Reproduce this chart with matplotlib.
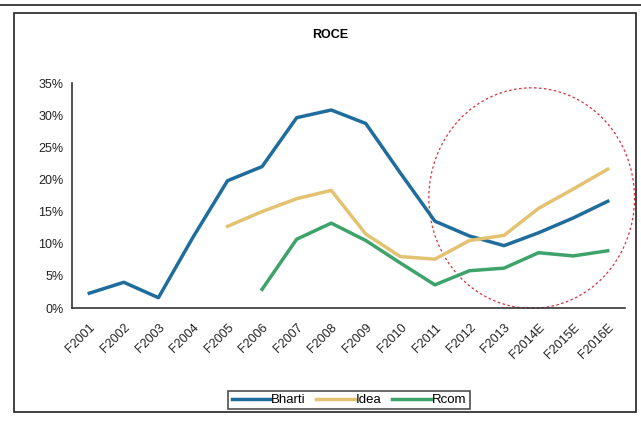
import matplotlib.pyplot as plt
import numpy as np
from matplotlib.patches import Ellipse, Rectangle
from matplotlib.lines import Line2D
from matplotlib.ticker import PercentFormatter

plt.rcParams['font.family'] = ['Liberation Sans', 'DejaVu Sans']

years = ['F2001', 'F2002', 'F2003', 'F2004', 'F2005', 'F2006', 'F2007', 'F2008',
         'F2009', 'F2010', 'F2011', 'F2012', 'F2013', 'F2014E', 'F2015E', 'F2016E']
bharti = [2.3, 4.0, 1.6, 11.0, 19.8, 22.0, 29.6, 30.8, 28.7, 21.0, 13.5, 11.2, 9.7, 11.7, 14.0, 16.6]
idea = [None, None, None, None, 12.7, 15.0, 17.0, 18.3, 11.5, 8.0, 7.6, 10.5, 11.3, 15.5, 18.5, 21.6]
rcom = [None, None, None, None, None, 2.9, 10.7, 13.2, 10.5, 7.0, 3.6, 5.8, 6.2, 8.6, 8.1, 8.9]

colores = {
    'Bharti': '#1f6d9c',
    'Idea': '#e3c271',
    'Rcom': '#3da36a',
}

W, H = 641, 423
fig = plt.figure(figsize=(W / 100, H / 100), dpi=100)

# marco exterior y linea superior
fig.add_artist(Line2D([0, 1], [1 - 5 / H, 1 - 5 / H], color='#222222', lw=1.2))
fig.add_artist(Rectangle((14 / W, 1 - 412 / H), (636 - 14) / W, (412 - 13) / H,
                         fill=False, edgecolor='#222222', lw=1.2))

ax = fig.add_axes([72 / W, 1 - 308 / H, (625 - 72) / W, (308 - 83) / H])
x = np.arange(len(years))

def serie(vals):
    return np.array([np.nan if v is None else v for v in vals], dtype=float)

ax.plot(x, serie(bharti), color=colores['Bharti'], lw=2.5, label='Bharti')
ax.plot(x, serie(idea), color=colores['Idea'], lw=2.5, label='Idea')
ax.plot(x, serie(rcom), color=colores['Rcom'], lw=2.5, label='Rcom')

ax.set_xlim(-0.5, len(years) - 0.5)
ax.set_ylim(0, 35)
ax.set_yticks(np.arange(0, 36, 5))
ax.yaxis.set_major_formatter(PercentFormatter(decimals=0))
ax.set_xticks(x)
ax.set_xticklabels(years, rotation=45, ha='right', va='top', rotation_mode='anchor')
ax.tick_params(length=0, labelsize=9, colors='#222222', pad=6)
ax.tick_params(axis='x', pad=10)
for s in ['top', 'right']:
    ax.spines[s].set_visible(False)
for s in ['left', 'bottom']:
    ax.spines[s].set_color('#333333')
    ax.spines[s].set_linewidth(1.2)

# elipse roja punteada
ell = Ellipse((12.8, 17.1), 5.95, 34.3, fill=False, edgecolor='#d9303a',
              linestyle=(0, (2, 2)), lw=0.9, clip_on=False)
ax.add_patch(ell)

fig.text(0.515, 1 - 35 / H, 'ROCE', ha='center', va='center', fontsize=9, fontweight='bold')

leg = fig.legend(loc='center', bbox_to_anchor=(349 / W, 1 - 400 / H), ncol=3,
                 fontsize=9.5, frameon=True, fancybox=False, handlelength=2.9,
                 handletextpad=0.1, columnspacing=0.8, borderpad=0.25)
leg.get_frame().set_edgecolor('#222222')
leg.get_frame().set_linewidth(1.2)

fig.savefig('out.png', dpi=100)
